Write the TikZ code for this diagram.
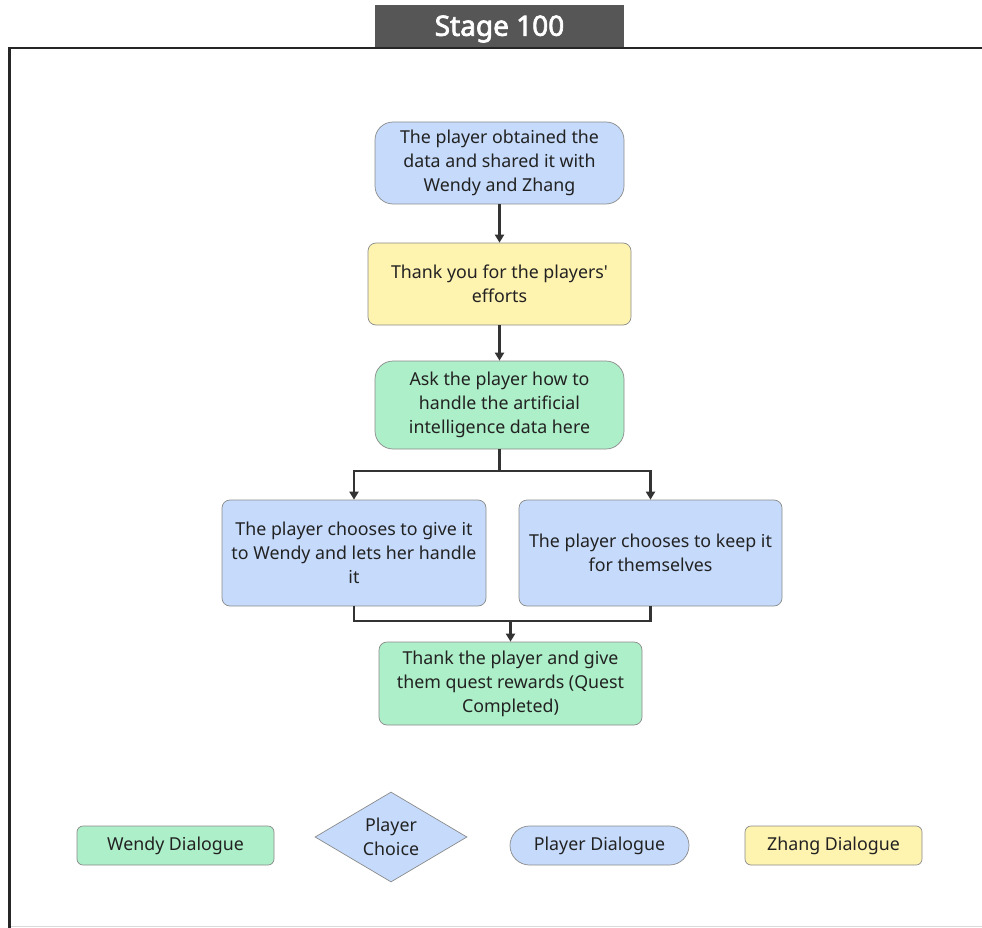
\documentclass[tikz,border=0pt]{standalone}
\usepackage{fontspec}
\setmainfont{Noto Sans}
\newfontfamily\titlefont{Noto Sans}[FakeBold=2.5]
\usetikzlibrary{arrows.meta,shapes.geometric}
\definecolor{bluef}{HTML}{C6DBFC}
\definecolor{yellowf}{HTML}{FFF3B0}
\definecolor{greenf}{HTML}{ADEFC8}
\definecolor{bordc}{HTML}{8A8A8A}
\definecolor{textc}{HTML}{222222}
\definecolor{linec}{HTML}{333333}
\definecolor{titlef}{HTML}{565656}
\begin{document}
\begin{tikzpicture}[x=1pt,y=-1pt,
  box/.style={draw=bordc, line width=0.7pt, rounded corners=8pt, align=center,
    font=\fontsize{17.8}{24}\selectfont, text=textc, inner sep=0pt},
  bluebox/.style={box, fill=bluef},
  yellowbox/.style={box, fill=yellowf},
  greenbox/.style={box, fill=greenf},
  conn/.style={draw=linec, line width=2.2pt},
  arr/.style={conn, -{Triangle[length=8pt,width=9pt]}}
]
\useasboundingbox (0,0) rectangle (982,928);
% frame
\draw[black!85, line width=3pt] (9.5,48) -- (9.5,928);
\draw[black!85, line width=2.5pt] (8,48) -- (982,48);
\draw[black!15, line width=1pt] (11,926) -- (982,926);
\node[fill=titlef, minimum width=249pt, minimum height=42pt, inner sep=0pt] (titlebox) at (499.5,26) {};
\node[text=white, inner sep=0pt, font=\titlefont\fontsize{28}{30}\selectfont] (title) at (499.5,29) {Stage 100};

% nodes
\node[bluebox, rounded corners=18pt, minimum width=249pt, minimum height=82pt] (n1) at (499.5,163)
  {The player obtained the\\data and shared it with\\Wendy and Zhang};
\node[yellowbox, minimum width=263pt, minimum height=82pt] (n2) at (499.5,284)
  {Thank you for the players\textquotesingle\\efforts};
\node[greenbox, rounded corners=18pt, minimum width=249pt, minimum height=88pt] (n3) at (499.5,405)
  {Ask the player how to\\handle the artificial\\intelligence data here};
\node[bluebox, minimum width=264pt, minimum height=106pt] (n4) at (354,553)
  {The player chooses to give it\\to Wendy and lets her handle\\it};
\node[bluebox, minimum width=263pt, minimum height=106pt] (n5) at (650.5,553)
  {The player chooses to keep it\\for themselves};
\node[greenbox, minimum width=263pt, minimum height=83pt] (n6) at (510.5,683.5)
  {Thank the player and give\\them quest rewards (Quest\\Completed)};

% connectors
\draw[arr] (n1) -- (n2);
\draw[arr] (n2) -- (n3);
\coordinate (b1) at (499.5,471);
\draw[conn] (n3.south) -- (b1);
\draw[arr] (b1) -| (n4.north);
\draw[arr] (b1) -| (n5.north);
\coordinate (m1) at (510.5,621);
\draw[conn] (n4.south) |- (m1);
\draw[conn] (n5.south) |- (m1);
\draw[arr] (m1) -- (n6.north);

% legend
\node[greenbox, rounded corners=6pt, minimum width=197pt, minimum height=39pt] (l1) at (175.5,845.5) {Wendy Dialogue};
\node[draw=bordc, line width=0.7pt, fill=bluef, diamond, aspect=1.7, minimum width=152pt, minimum height=90pt,
  inner sep=0pt, align=center, font=\fontsize{17.8}{24}\selectfont, text=textc] (l2) at (391,837) {Player\\Choice};
\node[bluebox, rounded corners=19.5pt, minimum width=179pt, minimum height=39pt] (l3) at (599.5,845.5) {Player Dialogue};
\node[yellowbox, rounded corners=6pt, minimum width=177pt, minimum height=39pt] (l4) at (833.5,845.5) {Zhang Dialogue};
\end{tikzpicture}
\end{document}
